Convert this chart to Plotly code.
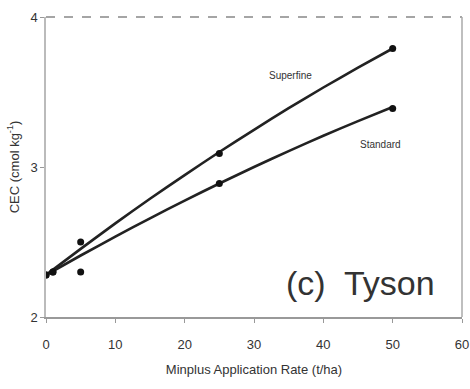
import plotly.graph_objects as go

# measured points
x_pts = [0, 1, 5, 25, 50]
superfine_pts = [2.28, 2.30, 2.50, 3.09, 3.79]
standard_pts = [2.28, 2.30, 2.30, 2.89, 3.39]

# fitted curves
x_fit = [0, 5, 10, 15, 20, 25, 30, 35, 40, 45, 50]
superfine_fit = [2.280, 2.454, 2.624, 2.788, 2.946, 3.100, 3.248, 3.392, 3.530, 3.662, 3.790]
standard_fit = [2.280, 2.410, 2.536, 2.658, 2.776, 2.890, 3.000, 3.106, 3.208, 3.306, 3.400]

x_ticks = [0, 10, 20, 30, 40, 50, 60]
y_ticks = [2, 3, 4]

fig = go.Figure()
for yf in (superfine_fit, standard_fit):
    fig.add_trace(go.Scatter(x=x_fit, y=yf, mode="lines",
                             line=dict(color="#222222", width=2.6, shape="spline", smoothing=0.6),
                             showlegend=False, hoverinfo="skip"))
for yp in (superfine_pts, standard_pts):
    fig.add_trace(go.Scatter(x=x_pts, y=yp, mode="markers", marker=dict(color="#111111", size=7),
                             showlegend=False))

fig.add_annotation(x=35.3, y=3.61, text="Superfine", showarrow=False,
                   font=dict(family="Liberation Sans Narrow, Liberation Sans", size=10, color="#333"))
fig.add_annotation(x=48.3, y=3.15, text="Standard", showarrow=False,
                   font=dict(family="Liberation Sans Narrow, Liberation Sans", size=10, color="#333"))
fig.add_annotation(x=45.3, y=2.23, text="(c)  Tyson", showarrow=False,
                   font=dict(family="Liberation Sans", size=34, color="#333"))

fig.add_shape(type="line", xref="paper", yref="paper", x0=0, x1=1, y0=1, y1=1,
              line=dict(color="#888", width=1.5, dash="dash"))
fig.add_shape(type="line", xref="paper", yref="paper", x0=1, x1=1, y0=0, y1=1,
              line=dict(color="#aaa", width=1.5))

fig.update_layout(
    width=470, height=389,
    margin=dict(l=46, r=8, t=17, b=72),
    paper_bgcolor="white", plot_bgcolor="white",
    font=dict(family="Liberation Sans Narrow, Liberation Sans", color="#333"),
    xaxis=dict(range=[0, 60], tickvals=x_ticks, showgrid=False, zeroline=False, automargin=False,
               showline=True, linecolor="#999", linewidth=2, ticks="outside", ticklen=4,
               tickcolor="#999", tickfont=dict(size=13), ticklabelstandoff=10,
               title=dict(text="Minplus Application Rate (t/ha)", font=dict(size=13), standoff=14)),
    yaxis=dict(range=[2, 4], tickvals=y_ticks, showgrid=False, zeroline=False, automargin=False,
               showline=True, linecolor="#bbb", linewidth=1.5, ticks="outside", ticklen=4,
               tickcolor="#999", tickfont=dict(size=13),
               title=dict(text="CEC (cmol kg<sup>-1</sup>)", font=dict(size=13), standoff=8)),
)
fig.write_html("out.html")
